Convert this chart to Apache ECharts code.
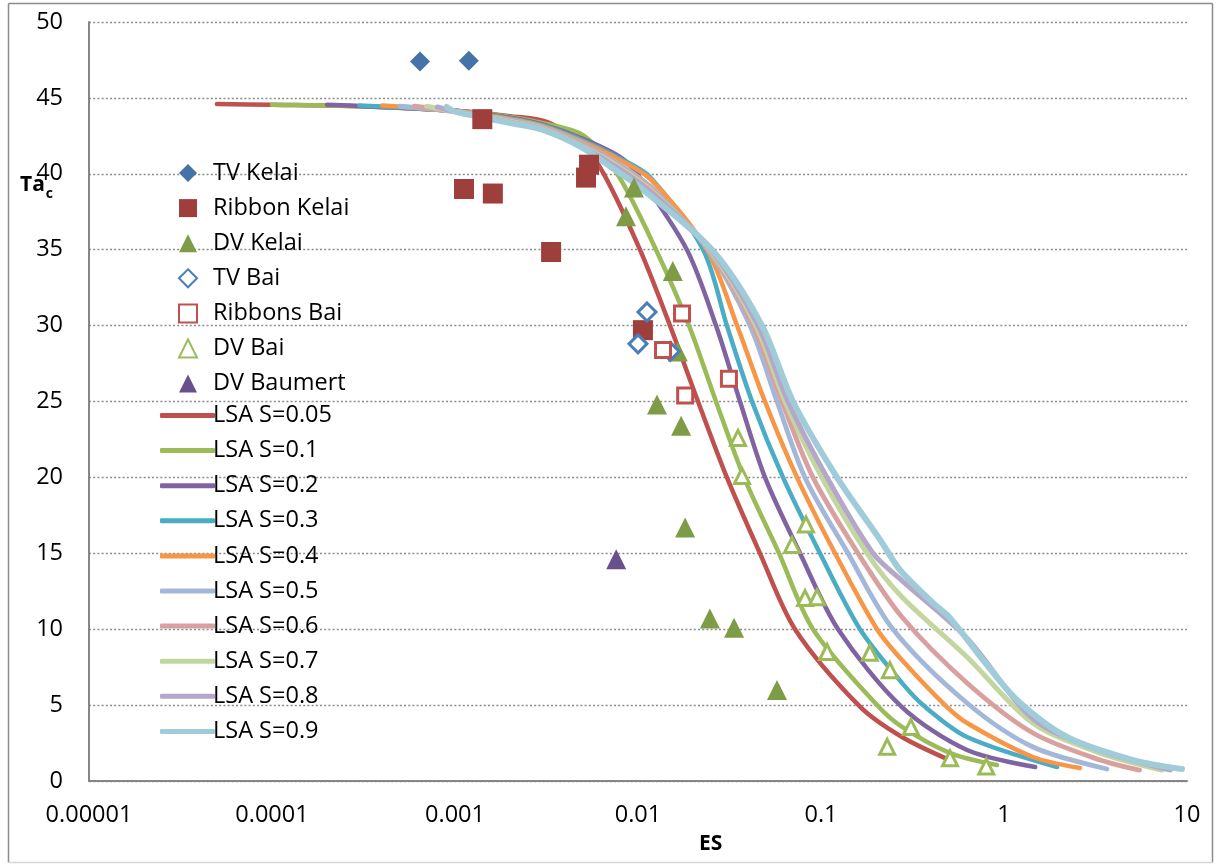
<!DOCTYPE html>
<html>
<head>
<meta charset="utf-8">
<script src="https://cdn.jsdelivr.net/npm/echarts@6.0.0/dist/echarts.min.js"></script>
<style>
html,body{margin:0;padding:0;background:#fff;}
#chart{width:1217px;height:864px;}
</style>
</head>
<body>
<div id="chart"></div>
<script>
// ---- tick labels ----
const X_TICKS = ['0.00001', '0.0001', '0.001', '0.01', '0.1', '1', '10'];

// ---- measured points [ES, Ta_c] ----
const tvKelai = [[0.000644, 47.4], [0.00119, 47.45]];
const ribbonKelai = [[0.00141, 43.6], [0.00112, 39.0], [0.00161, 38.7], [0.00335, 34.85], [0.0052, 39.75], [0.0054, 40.6], [0.01064, 29.7]];
const dvKelai = [[0.0095, 39.1], [0.0086, 37.2], [0.0155, 33.6], [0.0165, 28.3], [0.0127, 24.8], [0.0172, 23.4], [0.0181, 16.7], [0.0247, 10.7], [0.0335, 10.1], [0.0575, 6.0]];
const tvBai = [[0.0112, 30.9], [0.0100, 28.8], [0.0150, 28.3]];
const ribbonsBai = [[0.0174, 30.8], [0.0137, 28.4], [0.0314, 26.5], [0.0181, 25.4]];
const dvBai = [[0.0352, 22.6], [0.037, 20.1], [0.0828, 16.9], [0.0695, 15.55], [0.0818, 12.05], [0.0951, 12.1], [0.108, 8.5], [0.185, 8.45], [0.238, 7.3], [0.31, 3.55], [0.23, 2.25], [0.507, 1.5], [0.80, 0.95]];
const dvBaumert = [[0.0076, 14.6]];

// ---- LSA curves [ES, Ta_c] ----
const lsa005 = [[0.00005,44.6],[0.0001,44.55],[0.0003,44.45],[0.001,44.15],[0.002,43.8],[0.0032,43.4],[0.005,41.9],[0.0065,40],[0.01025,35],[0.01496,30],[0.02128,25],[0.0306,20],[0.0464,15],[0.0721,10],[0.1633,4.9],[0.277,2.9],[0.5,1.4]];
const lsa01 = [[0.0001,44.55],[0.0003,44.45],[0.001,44.15],[0.002,43.75],[0.003,43.35],[0.005,42.55],[0.0077,40],[0.01254,35],[0.019,30],[0.02668,25],[0.03796,20],[0.05895,15],[0.09044,10],[0.2023,5],[0.277,3.56],[0.508,1.84],[0.916,1.05]];
const lsa02 = [[0.0002,44.55],[0.001,44.15],[0.002,43.7],[0.003,43.25],[0.005,42.3],[0.008,41.1],[0.0099,40],[0.0185,35],[0.02668,30],[0.03609,25],[0.04943,20],[0.0768,15],[0.1239,10],[0.277,4.87],[0.628,2.04],[1.48,0.92]];
const lsa03 = [[0.0003,44.5],[0.001,44.15],[0.002,43.65],[0.003,43.2],[0.005,42.2],[0.008,41.0],[0.0116,39.8],[0.0227,35],[0.0306,30],[0.042,25],[0.062,20],[0.0987,15],[0.1633,10],[0.277,6.46],[0.361,5],[0.628,2.9],[1.95,0.92]];
const lsa04 = [[0.0004,44.5],[0.001,44.15],[0.002,43.6],[0.003,43.15],[0.005,42.1],[0.008,40.9],[0.0118,39.6],[0.0238,35],[0.0348,30],[0.0494,25],[0.07394,20],[0.1193,15],[0.2023,10],[0.277,7.97],[0.476,5],[0.628,3.82],[1.44,1.58],[2.6,0.86]];
const lsa05 = [[0.0005,44.45],[0.001,44.1],[0.002,43.55],[0.003,43.1],[0.005,42.0],[0.008,40.6],[0.0121,39.0],[0.0241,35],[0.0409,30],[0.0575,25],[0.0817,20],[0.1404,15],[0.2473,10],[0.628,5.14],[1.44,2.24],[3.65,0.79]];
const lsa06 = [[0.0006,44.45],[0.001,44.1],[0.002,43.5],[0.003,43.05],[0.005,41.9],[0.008,40.5],[0.0121,38.9],[0.0244,35],[0.0425,30],[0.0612,25],[0.0904,20],[0.1593,15],[0.277,10.8],[0.628,6.46],[1.44,3.16],[3.35,1.38],[5.5,0.72]];
const lsa07 = [[0.0007,44.45],[0.001,44.1],[0.002,43.45],[0.003,43.0],[0.005,41.8],[0.008,40.4],[0.0121,38.8],[0.0247,35],[0.0441,30],[0.0636,25],[0.101,20],[0.1784,15],[0.277,12.12],[0.628,8.17],[1.44,3.8],[3.35,1.84],[7.3,0.72]];
const lsa08 = [[0.0008,44.4],[0.001,44.1],[0.002,43.4],[0.003,42.95],[0.005,41.75],[0.008,40.3],[0.0121,38.7],[0.025,35],[0.0453,30],[0.066,25],[0.1078,20],[0.1924,15],[0.277,13.2],[0.628,9.4],[1.44,4.1],[3.35,2.0],[8.1,0.72]];
const lsa09 = [[0.0009,44.4],[0.001,44.1],[0.002,43.35],[0.003,42.9],[0.005,41.7],[0.007,40.5],[0.01,39.2],[0.0254,35],[0.0476,30],[0.0703,25],[0.1223,20],[0.2101,15.9],[0.2702,13.9],[0.4093,11.73],[0.5069,10.74],[0.7677,7.97],[1.178,5.34],[2.21,2.9],[5.07,1.38],[9.39,0.79]];

const FONT = "'Open Sans', 'Liberation Sans', sans-serif";

const lineDefs = [
  ['LSA S=0.05', lsa005, '#C0504D', 4.5],
  ['LSA S=0.1', lsa01, '#9BBB59', 4.5],
  ['LSA S=0.2', lsa02, '#8064A2', 4.5],
  ['LSA S=0.3', lsa03, '#4BACC6', 4.5],
  ['LSA S=0.4', lsa04, '#F79646', 4.5],
  ['LSA S=0.5', lsa05, '#A3B7D8', 4.8],
  ['LSA S=0.6', lsa06, '#D8A09E', 4.8],
  ['LSA S=0.7', lsa07, '#C3D6A0', 5],
  ['LSA S=0.8', lsa08, '#B5A7C8', 5],
  ['LSA S=0.9', lsa09, '#A0CCDA', 6]
];

const scatterDefs = [
  ['TV Kelai', tvKelai, 'diamond', 20, {color: '#4572A7'}],
  ['Ribbon Kelai', ribbonKelai, 'rect', 20, {color: '#9E3F3C'}],
  ['DV Kelai', dvKelai, 'triangle', 20, {color: '#7E9B46'}],
  ['TV Bai', tvBai, 'diamond', 18, {color: '#ffffff', borderColor: '#4A7EBB', borderWidth: 3}],
  ['Ribbons Bai', ribbonsBai, 'rect', 15, {color: '#ffffff', borderColor: '#C0504D', borderWidth: 3}],
  ['DV Bai', dvBai, 'triangle', 15, {color: '#ffffff', borderColor: '#9BBB59', borderWidth: 3}],
  ['DV Baumert', dvBaumert, 'triangle', 20, {color: '#68508C'}]
];

const series = [];
lineDefs.forEach(function (d) {
  series.push({
    type: 'line', name: d[0], data: d[1],
    symbol: 'none', showSymbol: false, smooth: 0.3,
    lineStyle: {width: d[3], color: d[2], cap: 'round', join: 'round'},
    itemStyle: {color: d[2]},
    z: 2, animation: false
  });
});
scatterDefs.forEach(function (d) {
  series.push({
    type: 'scatter', name: d[0], data: d[1],
    symbol: d[2], symbolSize: d[3],
    itemStyle: Object.assign({opacity: 1}, d[4]),
    z: 5, animation: false
  });
});

const LEG_TEXT = {fontFamily: FONT, fontSize: 23.5, color: '#000'};

const chart = echarts.init(document.getElementById('chart'), null, {renderer: 'canvas'});
chart.setOption({
  animation: false,
  backgroundColor: '#ffffff',
  title: [
    {
      text: '{a|Ta}{b|c}', left: 15, top: 170,
      textStyle: {
        rich: {
          a: {fontFamily: FONT, fontWeight: 'bold', fontSize: 21, color: '#000', lineHeight: 26, verticalAlign: 'top'},
          b: {fontFamily: FONT, fontWeight: 'bold', fontSize: 14, color: '#000', lineHeight: 26, verticalAlign: 'bottom', padding: [14, 0, 0, 1]}
        }
      }
    },
    {
      text: 'ES', left: 694, top: 829,
      textStyle: {fontFamily: FONT, fontWeight: 'bold', fontSize: 21, color: '#000'}
    }
  ],
  legend: [
    {
      orient: 'vertical', left: 173, top: 156,
      itemWidth: 18, itemHeight: 18, itemGap: 11.1,
      data: scatterDefs.map(d => d[0]),
      textStyle: Object.assign({padding: [0, 0, 0, 11]}, LEG_TEXT),
      selectedMode: false
    },
    {
      orient: 'vertical', left: 155, top: 398.5,
      itemWidth: 55, itemHeight: 5, itemGap: 11.1,
      icon: 'roundRect',
      data: lineDefs.map(d => d[0]),
      textStyle: Object.assign({padding: [0, 0, 0, -7]}, LEG_TEXT),
      selectedMode: false
    }
  ],
  grid: {left: 89, right: 30, top: 22, bottom: 83, containLabel: false},
  xAxis: {
    type: 'log', logBase: 10, min: 0.00001, max: 10,
    axisLine: {show: true, lineStyle: {color: '#868686', width: 2}},
    axisTick: {show: false},
    splitLine: {show: false},
    minorTick: {show: false},
    axisLabel: {
      fontFamily: FONT, fontSize: 23.5, color: '#000', margin: 22,
      formatter: function (v) { return X_TICKS[Math.round(Math.log10(v)) + 5]; }
    }
  },
  yAxis: {
    type: 'value', min: 0, max: 50, interval: 5,
    axisLine: {show: true, lineStyle: {color: '#868686', width: 2}},
    axisTick: {show: false},
    splitLine: {show: true, lineStyle: {color: '#8a8a8a', width: 1.4, type: [2, 2.2]}},
    axisLabel: {fontFamily: FONT, fontSize: 23.5, color: '#000', margin: 26}
  },
  graphic: [
    {type: 'line', shape: {x1: 8.5, y1: 3.5, x2: 1212.5, y2: 3.5}, style: {stroke: '#8c8c8c', lineWidth: 1.5}, silent: true},
    {type: 'line', shape: {x1: 8.5, y1: 3.5, x2: 8.5, y2: 862.5}, style: {stroke: '#8c8c8c', lineWidth: 1.5}, silent: true},
    {type: 'line', shape: {x1: 1212.5, y1: 3.5, x2: 1212.5, y2: 862.5}, style: {stroke: '#8c8c8c', lineWidth: 1.5}, silent: true},
    {type: 'line', shape: {x1: 8.5, y1: 862.5, x2: 1212.5, y2: 862.5}, style: {stroke: '#d6d6d6', lineWidth: 1.5}, silent: true}
  ],
  series: series
});
</script>
</body>
</html>
